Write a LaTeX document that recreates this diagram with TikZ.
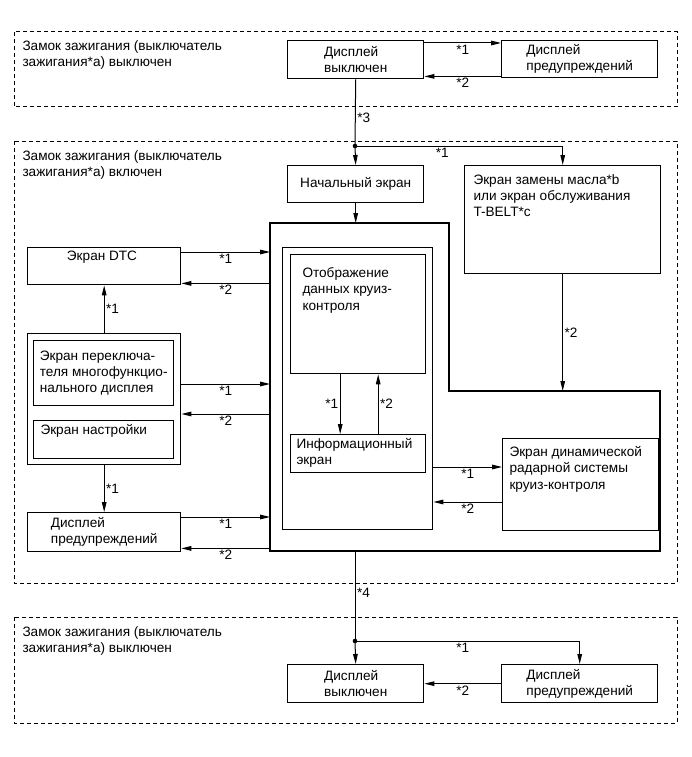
\documentclass[tikz,border=0pt]{standalone}
\usepackage{fontspec}
\setmainfont{Liberation Sans}
\usetikzlibrary{arrows.meta, positioning}
\tikzset{every picture/.style={line width=1pt}}

\begin{document}
\begin{tikzpicture}[x=1pt, y=-1pt, >={Triangle[length=10pt,width=4.6pt]},
        font=\fontsize{13.6}{16.3}\selectfont,
        box/.style={draw, line width=1.4pt, anchor=north west, align=left, inner sep=0pt},
        txt/.style={anchor=north west, align=left, inner sep=0pt},
        zone/.style={draw, dash pattern=on 4pt off 3pt},
        tag/.style={inner sep=1.5pt}]
        \useasboundingbox (0,0) rectangle (691,757);
        % ignition zones
        \draw[zone] (14,32) rectangle (677,107);
        \draw[zone] (14,141) rectangle (677,583);
        \draw[zone] (14,617) rectangle (677,723);
        \node[txt] (zoneA) at (22,40) {Замок зажигания (выключатель\\зажигания*a) выключен};
        \node[txt] (zoneB) at (22,150) {Замок зажигания (выключатель\\зажигания*a) включен};
        \node[txt] (zoneC) at (22,626) {Замок зажигания (выключатель\\зажигания*a) выключен};
        % upper zone
        \node[box, minimum width=136, minimum height=38] (offA) at (287,40) {Дисплей\\выключен};
        \node[box, minimum width=156, minimum height=37] (warnA) at (501,40) {Дисплей\\предупреждений};
        % middle zone
        \node[box, minimum width=136, minimum height=37] (start) at (287,165) {Начальный экран};
        \node[box, minimum width=196, minimum height=108] (oil) at (464,165) {};
        \node[txt] (oiltxt) at (473,174) {Экран замены масла*b\\или экран обслуживания\\T-BELT*c};
        \draw[line width=1.4pt] (270,223) coordinate (fNW) -- (449,223) -- (449,391) coordinate (fMid)
            -- (660,391) -- (660,551) -- (355,551) coordinate (fS) -- (270,551) -- cycle;
        \node[box, minimum width=150, minimum height=282] (inner) at (282,247) {};
        \node[box, minimum width=135, minimum height=119] (cruise) at (290,254) {};
        \node[txt] (cruisetxt) at (302,267) {Отображение\\данных круиз-\\контроля};
        \node[box, minimum width=135, minimum height=38] (info) at (290,434) {};
        \node[txt] (infotxt) at (296,438) {Информационный\\экран};
        \node[box, minimum width=156, minimum height=92] (radar) at (502,438) {};
        \node[txt] (radartxt) at (509,446) {Экран динамической\\радарной системы\\круиз-контроля};
        \node[box, minimum width=153, minimum height=37] (dtc) at (27,247) {};
        \node[anchor=north, inner sep=0pt] (dtctxt) at (102,251) {Экран DTC};
        \node[box, minimum width=153, minimum height=131] (multi) at (27,333) {};
        \node[box, minimum width=140, minimum height=65] (multisw) at (33,340) {Экран переключа-\\теля многофункцио-\\нального дисплея};
        \node[box, minimum width=140, minimum height=38] (setup) at (33,420) {};
        \node[txt] (setuptxt) at (40,424) {Экран настройки};
        \node[box, minimum width=153, minimum height=39] (warnB) at (27,512) {Дисплей\\предупреждений};
        % lower zone
        \node[box, minimum width=136, minimum height=38] (offC) at (287,664) {Дисплей\\выключен};
        \node[box, minimum width=156, minimum height=38] (warnC) at (501,664) {Дисплей\\предупреждений};
        % helper points
        \coordinate (jB) at (355,146);
        \coordinate (jC) at (355,641);
        \coordinate (aTop) at ([shift={(0,3)}]offA.north east);
        \coordinate (aBot) at ([shift={(0,-3)}]offA.south east);
        \coordinate (dIn) at ([shift={(0,5)}]dtc.north east);
        \coordinate (dOut) at ([shift={(0,-2)}]dtc.south east);
        \coordinate (mIn) at ([shift={(0,51)}]multi.north east);
        \coordinate (mOut) at ([shift={(0,81)}]multi.north east);
        \coordinate (wIn) at ([shift={(0,5)}]warnB.north east);
        \coordinate (wOut) at ([shift={(0,-4)}]warnB.south east);
        \coordinate (rIn) at ([shift={(0,29)}]radar.north west);
        \coordinate (rOut) at ([shift={(0,64)}]radar.north west);
        \coordinate (cDown) at ([shift={(-18,0)}]cruise.south);
        \coordinate (cUp) at ([shift={(20,0)}]cruise.south);
        \fill (jB) circle (2.3);
        \fill (jC) circle (2.3);
        % connectors
        \draw[->] (aTop) -- node[tag, below]{*1} (aTop -| warnA.west);
        \draw[->] (aBot -| warnA.west) -- node[tag, below]{*2} (aBot);
        \draw (offA.south) -- node[tag, right, pos=0.57]{*3} (jB);
        \draw[->] (jB) -- (start.north);
        \draw[->] (jB) -| node[tag, below, pos=0.21]{*1} (oil.north);
        \draw[->] (start.south) -- (start.south |- fNW);
        \draw[->] (oil.south) -- node[tag, right]{*2} (oil.south |- fMid);
        \draw[->] (dIn) -- node[tag, below]{*1} (dIn -| fNW);
        \draw[->] (dOut -| fNW) -- node[tag, below]{*2} (dOut);
        \draw[->] (mIn) -- node[tag, below]{*1} (mIn -| fNW);
        \draw[->] (mOut -| fNW) -- node[tag, below]{*2} (mOut);
        \draw[->] (wIn) -- node[tag, below]{*1} (wIn -| fNW);
        \draw[->] (wOut -| fNW) -- node[tag, below]{*2} (wOut);
        \draw[->] (multi.north) -- node[tag, right]{*1} (dtc.south);
        \draw[->] (multi.south) -- node[tag, right]{*1} (warnB.north);
        \draw[->] (cDown) -- node[tag, left]{*1} (cDown |- info.north);
        \draw[->] (cUp |- info.north) -- node[tag, right]{*2} (cUp);
        \draw[->] (rIn -| inner.east) -- node[tag, below]{*1} (rIn);
        \draw[->] (rOut) -- node[tag, below]{*2} (rOut -| inner.east);
        \draw (fS) -- node[tag, right, pos=0.46]{*4} (jC);
        \draw[->] (jC) -- (offC.north);
        \draw[->] (jC) -| node[tag, below, pos=0.24]{*1} (warnC.north);
        \draw[->] (warnC.west) -- node[tag, below]{*2} (offC.east);
\end{tikzpicture}
\end{document}
